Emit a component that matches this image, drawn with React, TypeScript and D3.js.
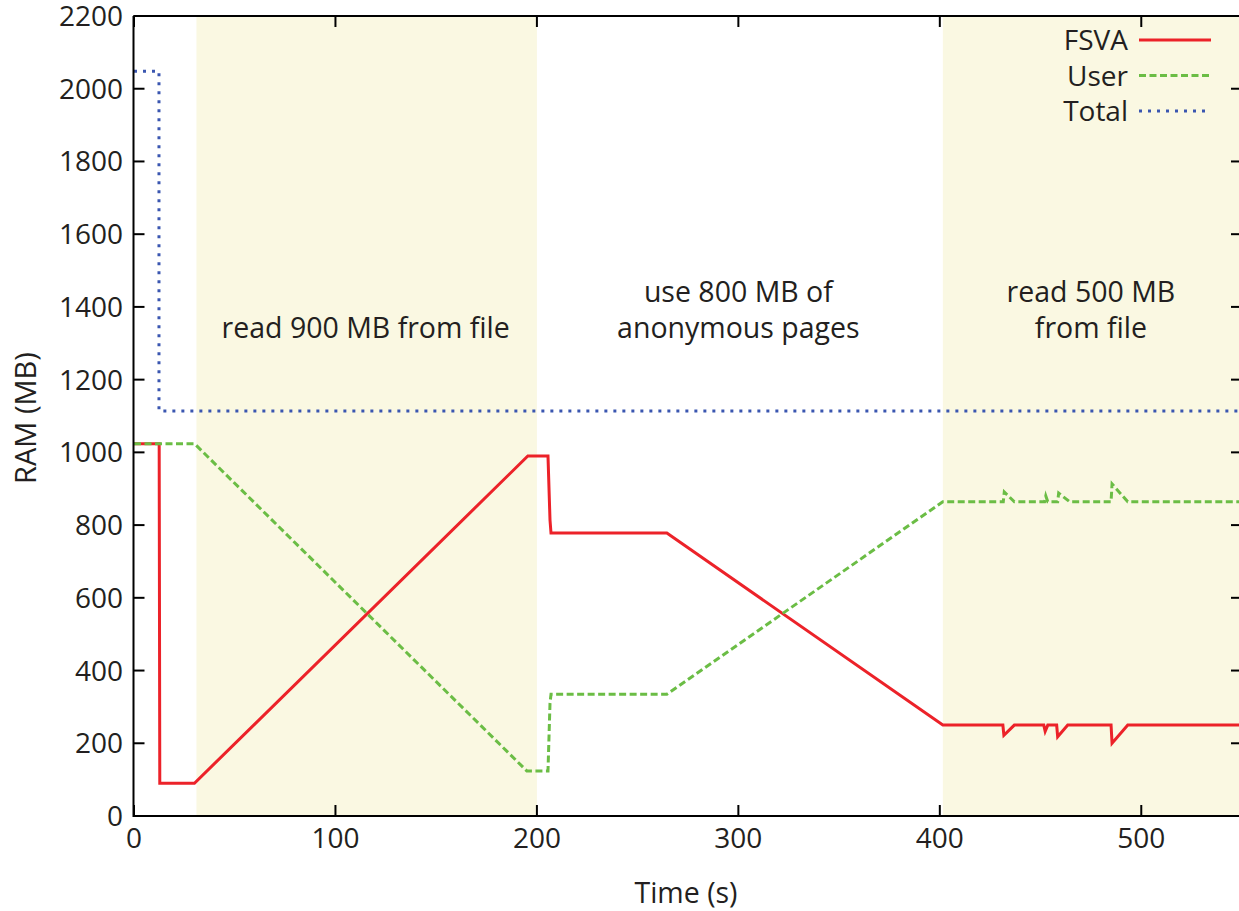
import React from "react";
import * as d3 from "d3";

const xTicks = [0, 100, 200, 300, 400, 500];
const yTicks = [0, 200, 400, 600, 800, 1000, 1200, 1400, 1600, 1800, 2000, 2200];

const fsvaT = [0, 12.5, 12.8, 30, 195.5, 205.5, 206.5, 207, 264.5, 401.5, 431.3, 431.8, 437, 451.6, 452.3, 453.6, 458, 458.5, 463.5, 485, 485.5, 493.3, 550];
const fsvaV = [1024, 1024, 90, 90, 990, 990, 814, 778, 778, 250, 250, 222, 250, 250, 233, 250, 250, 218, 250, 250, 200, 250, 250];

const userT = [0, 30, 195, 205.5, 206.5, 207, 264.5, 401.5, 431.5, 432, 437, 452, 452.6, 453.6, 458.5, 459, 464.5, 485, 485.5, 493.3, 550];
const userV = [1024, 1024, 124, 124, 310, 335, 335, 864, 864, 891, 864, 864, 880, 864, 864, 888, 864, 864, 913, 864, 864];

const totalT = [0, 12.4, 12.4, 550];
const totalV = [2048, 2048, 1114, 1114];

const shaded = [[31, 200], [401.5, 550]];

const annotations = [
  { x: 115, lines: ["read 900 MB from file"] },
  { x: 300, lines: ["use 800 MB of", "anonymous pages"] },
  { x: 475, lines: ["read 500 MB", "from file"] },
];

const legend = [
  { name: "FSVA", color: "#ec2229", dash: "none" },
  { name: "User", color: "#6bbd45", dash: "7,3.5" },
  { name: "Total", color: "#3a56b0", dash: "3,6" },
];

const W = 1239, H = 911;
const L = 133.5, R = 1242, T = 16, B = 816;
const font = "'Open Sans', 'Noto Sans', sans-serif";

export default function App() {
  const x = d3.scaleLinear().domain([0, 550]).range([134, 1242]);
  const y = d3.scaleLinear().domain([0, 2200]).range([B, T]);
  const line = d3.line<[number, number]>().x(d => x(d[0])).y(d => y(d[1]));
  const fsva = fsvaT.map((t, i) => [t, fsvaV[i]] as [number, number]);
  const user = userT.map((t, i) => [t, userV[i]] as [number, number]);
  const total = totalT.map((t, i) => [t, totalV[i]] as [number, number]);
  const tk = 11;
  return (
    <svg width={W} height={H} style={{ position: "absolute", left: 0, top: 0, background: "#fff" }} fontFamily={font}>
      {shaded.map((s, i) => (
        <rect key={i} x={x(s[0])} y={T} width={x(s[1]) - x(s[0])} height={B - T} fill="#faf8e2" />
      ))}
      {annotations.map((a, i) => (
        <text key={i} x={x(a.x)} textAnchor="middle" fontSize={28.5} fill="#231f20">
          {a.lines.map((l, j) => (
            <tspan key={j} x={x(a.x)} y={(a.lines.length === 1 ? 338 : 302) + j * 36}>{l}</tspan>
          ))}
        </text>
      ))}
      <path d={line(fsva) || ""} fill="none" stroke="#ec2229" strokeWidth={3} strokeLinejoin="miter" />
      <path d={line(user) || ""} fill="none" stroke="#6bbd45" strokeWidth={3} strokeDasharray="7,3.5" />
      <path d={line(total) || ""} fill="none" stroke="#3a56b0" strokeWidth={3} strokeDasharray="3,6" />
      <path d={`M${L},${T}H${R}M${L},${T}V${B}H${R}`} fill="none" stroke="#000" strokeWidth={2} />
      {yTicks.map(v => (
        <g key={"y" + v}>
          <line x1={L} x2={L + tk} y1={y(v)} y2={y(v)} stroke="#000" strokeWidth={2} />
          <line x1={R - tk} x2={R} y1={y(v)} y2={y(v)} stroke="#000" strokeWidth={2} />
          <text x={123} y={y(v) + 10} textAnchor="end" fontSize={28} fill="#231f20">{v}</text>
        </g>
      ))}
      {xTicks.map(v => (
        <g key={"x" + v}>
          <line x1={x(v)} x2={x(v)} y1={B} y2={B - tk} stroke="#000" strokeWidth={2} />
          <line x1={x(v)} x2={x(v)} y1={T} y2={T + tk} stroke="#000" strokeWidth={2} />
          <text x={x(v)} y={848} textAnchor="middle" fontSize={28} fill="#231f20">{v}</text>
        </g>
      ))}
      <text x={686} y={903} textAnchor="middle" fontSize={28.5} fill="#231f20">Time (s)</text>
      <text transform={`translate(36,${(T + B) / 2 + 2}) rotate(-90)`} textAnchor="middle" fontSize={29} fill="#231f20">RAM (MB)</text>
      {legend.map((l, i) => {
        const ly = 40 + i * 35.5;
        return (
          <g key={l.name}>
            <text x={1128} y={ly + 10} textAnchor="end" fontSize={28} fill="#231f20">{l.name}</text>
            <line x1={1139} x2={1211} y1={ly} y2={ly} stroke={l.color} strokeWidth={3} strokeDasharray={l.dash} />
          </g>
        );
      })}
    </svg>
  );
}
